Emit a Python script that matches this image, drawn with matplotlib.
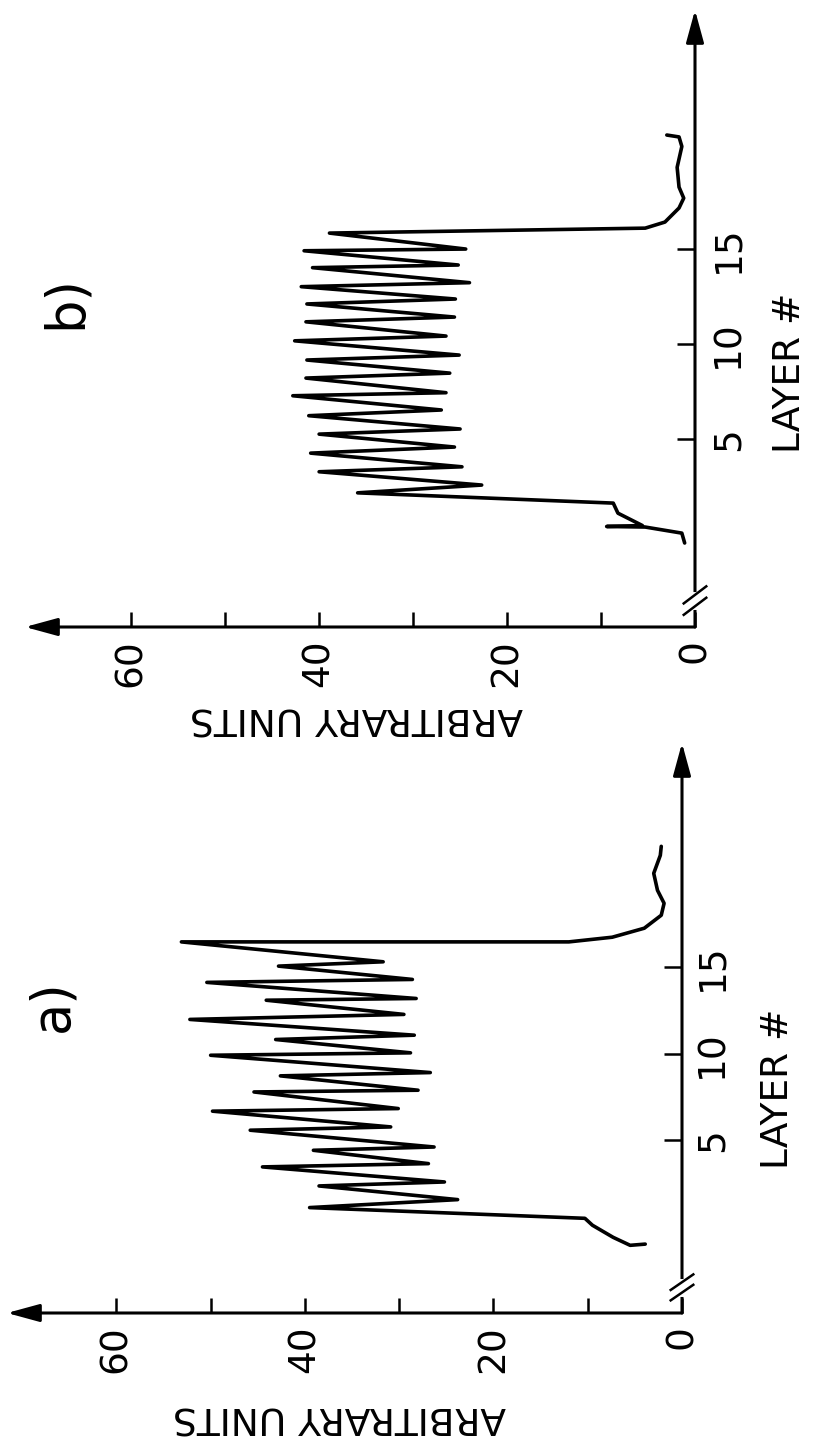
import matplotlib
matplotlib.use("Agg")
import matplotlib.pyplot as plt

plt.rcParams['font.family'] = ['DejaVu Sans']

# panel b (top of the page)
layer_b = [-0.47, 0.05, 0.37, 0.40, 0.45, 1.10, 1.63,
           2.17, 2.58, 3.28, 3.54, 4.26, 4.58, 5.26, 5.53, 6.23, 6.53, 7.28, 7.44,
           8.21, 8.47, 9.16, 9.42, 10.17, 10.42, 11.17, 11.42, 12.11, 12.37, 13.02,
           13.23, 14.02, 14.16, 14.91, 15.00, 15.84,
           16.10, 16.42, 17.16, 17.68, 18.26, 19.30, 20.40, 20.90, 21.00]
value_b = [1.1, 1.4, 5.3, 9.4, 5.6, 8.2, 8.7,
           35.9, 22.7, 40.0, 24.8, 40.9, 25.6, 40.0, 25.0, 41.1, 27.0, 42.8, 26.5,
           41.4, 26.1, 41.3, 25.1, 42.6, 26.5, 41.4, 25.6, 41.3, 25.5, 41.9,
           24.0, 40.7, 25.2, 41.6, 24.4, 38.9,
           5.3, 3.2, 1.7, 1.2, 1.7, 1.9, 1.4, 1.7, 3.0]

# panel a (bottom of the page)
layer_a = [-1.00, -1.07, -0.61, 0.09, 0.49,
           1.11, 1.57, 2.36, 2.59, 3.46, 3.65, 4.42, 4.61, 5.58, 5.77, 6.68, 6.83,
           7.79, 7.89, 8.72, 8.91, 9.91, 10.05, 10.82, 11.07, 11.98, 12.27, 13.09,
           13.19, 14.12, 14.29, 15.06, 15.31, 16.46,
           16.46, 16.73, 17.25, 18.00, 18.69, 19.44, 20.42, 21.46, 21.98]
value_a = [3.9, 5.5, 7.3, 9.5, 10.3,
           39.5, 23.8, 38.5, 25.2, 44.5, 26.9, 39.1, 26.3, 45.8, 30.9, 49.8, 30.1,
           45.4, 28.0, 42.6, 26.7, 50.0, 28.8, 43.1, 28.4, 52.2, 29.5, 44.1,
           28.2, 50.4, 28.6, 42.8, 31.7, 53.1,
           12.0, 7.4, 4.0, 2.2, 1.9, 2.6, 3.0, 2.3, 2.2]

value_ticks = [0, 20, 40, 60]
value_minor = [10, 30, 50]
layer_ticks = [5, 10, 15]

W, H = 815, 1447
fig = plt.figure(figsize=(W / 100, H / 100), dpi=100)


def rect(left, top, right, bottom):
    return [left / W, 1 - bottom / H, (right - left) / W, (bottom - top) / H]


def panel(ax, layers, values, vmax, lmin, lmax, tag, tag_pos, xl_pos, yl_pos, ypad):
    # the whole chart is turned 90 deg: value runs right->left, layer runs up
    ax.set_xlim(vmax, 0)
    ax.set_ylim(lmin, lmax)
    for s in ax.spines.values():
        s.set_visible(False)
    ax.patch.set_alpha(0)

    ax.plot(values, layers, color='black', lw=2.6, solid_joinstyle='round',
            solid_capstyle='round', zorder=4)

    arrow = dict(arrowstyle='-|>,head_length=0.55,head_width=0.15', lw=2.2,
                 color='black', mutation_scale=36, shrinkA=0, shrinkB=0)
    ax.annotate('', xy=(vmax, lmin), xytext=(0, lmin), arrowprops=arrow,
                annotation_clip=False)
    ax.annotate('', xy=(0, lmax), xytext=(0, lmin), arrowprops=arrow,
                annotation_clip=False)

    # axis break near the origin
    lc = -3.5
    ax.plot([0, 0], [lc - 0.3, lc + 0.3], color='white', lw=5, zorder=6,
            clip_on=False)
    for d in (-0.3, 0.3):
        ax.plot([1.2, -1.2], [lc + d - 0.45, lc + d + 0.45], color='black',
                lw=1.8, zorder=7, clip_on=False)

    ax.xaxis.set_ticks_position('bottom')
    ax.set_xticks(value_ticks)
    ax.set_xticks(value_minor, minor=True)
    ax.tick_params(axis='x', which='both', direction='in', length=11, width=1.8,
                   labelsize=27, pad=9, labelrotation=90)
    ax.yaxis.set_ticks_position('right')
    ax.set_yticks(layer_ticks)
    ax.tick_params(axis='y', direction='in', length=13, width=1.8,
                   labelsize=27, pad=ypad, labelrotation=90)
    for lbl in ax.get_yticklabels():
        lbl.set_va('center')

    ax.text(xl_pos[0], xl_pos[1], 'ARBITRARY UNITS', transform=ax.get_xaxis_transform(),
            rotation=180, fontsize=27, ha='center', va='center')
    ax.text(yl_pos[0], yl_pos[1], 'LAYER #', transform=ax.get_yaxis_transform(),
            rotation=90, fontsize=27, ha='center', va='center')
    ax.text(tag_pos[0], tag_pos[1], tag, rotation=90, fontsize=38,
            ha='center', va='center')


ax_b = fig.add_axes(rect(25, 10, 695, 627))
panel(ax_b, layer_b, value_b, 71.3, -4.89, 27.58, 'b)', (67, 12.2),
      (36.0, -0.146), (1.142, 8.5), 11)

ax_a = fig.add_axes(rect(7, 743, 682, 1313))
panel(ax_a, layer_a, value_a, 71.6, -4.98, 27.95, 'a)', (66.8, 12.8),
      (36.3, -0.182), (1.142, 8.0), 9)

fig.savefig('out.png', dpi=100, facecolor='white')
